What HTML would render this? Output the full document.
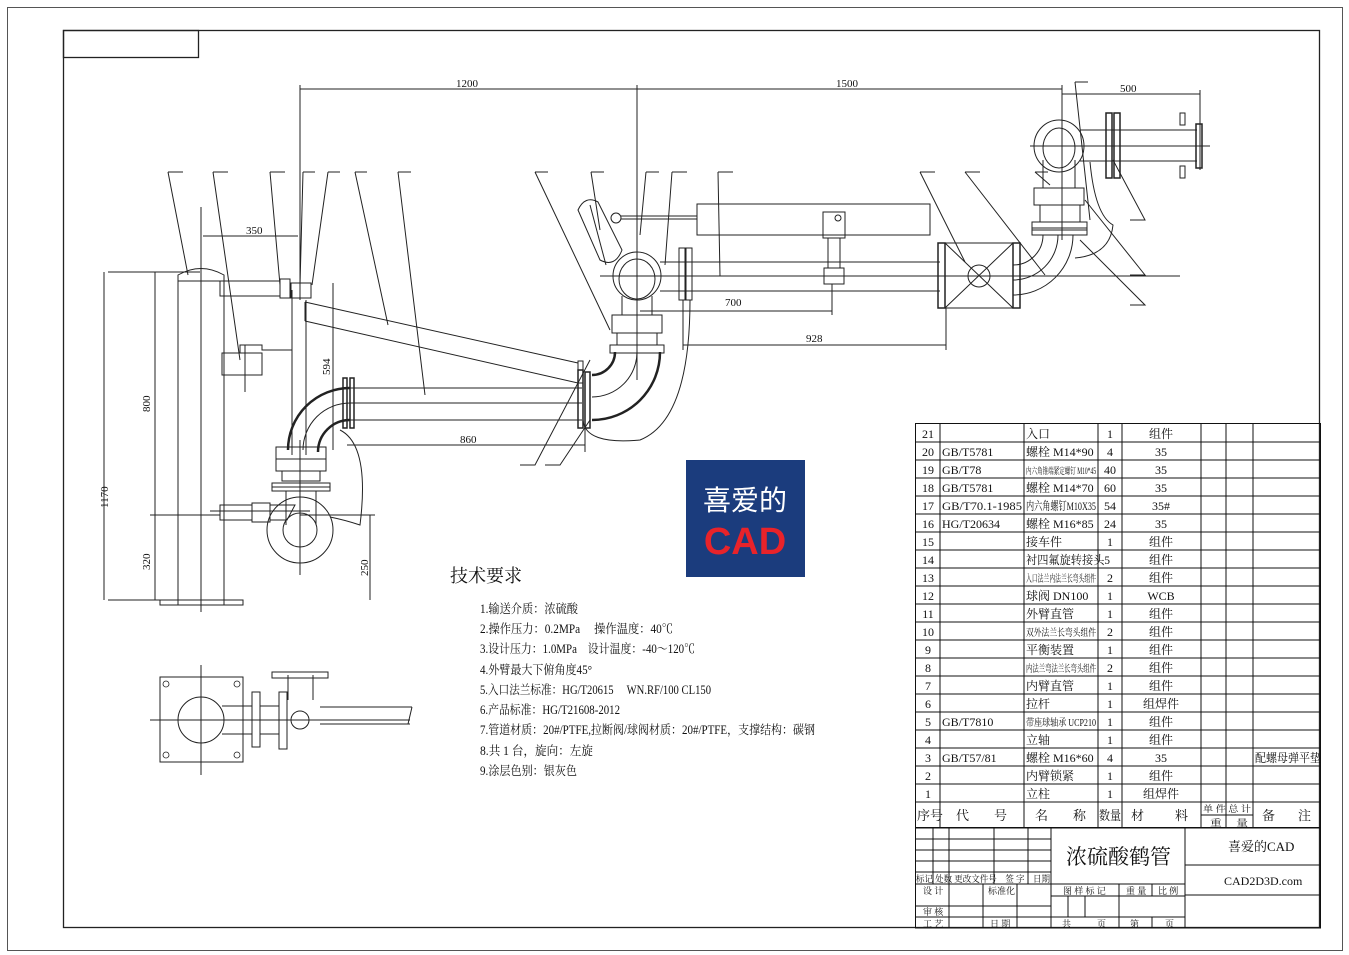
<!DOCTYPE html>
<html><head><meta charset="utf-8"><style>
html,body{margin:0;padding:0;background:#fff}
svg{display:block}
text{font-family:"Liberation Serif","Noto Serif CJK SC","Noto Sans CJK SC",serif;fill:#111}
.s{font-family:"Liberation Sans","Noto Sans CJK SC",sans-serif}
</style></head><body>
<svg width="1349" height="955" viewBox="0 0 1349 955" xmlns="http://www.w3.org/2000/svg">
<g fill="none" stroke="#222" stroke-width="1">
<rect x="7.5" y="7.5" width="1335" height="943" stroke="#555"/>
<rect x="63.5" y="30.5" width="1256" height="897" stroke-width="1.3"/>
<rect x="63.5" y="30.5" width="135" height="27" stroke-width="1.3"/>

<line x1="300" y1="85" x2="300" y2="300"/>
<line x1="637" y1="85" x2="637" y2="380"/>
<line x1="1062" y1="85" x2="1062" y2="240"/>
<line x1="1200" y1="90" x2="1200" y2="170"/>
<line x1="300" y1="89" x2="637" y2="89"/>
<line x1="637" y1="89" x2="1062" y2="89"/>
<line x1="1062" y1="94" x2="1200" y2="94"/>

<path d="M168 172h15 M213 172h15 M270 172h15 M303 172h12 M328 172h12 M355 172h12 M398 172h13 M535 172h13 M591 172h13 M646 172h13 M672 172h15 M718 172h15 M920 172h15 M965 172h15 M1035 172h13 M1075 82h13"/>
<path d="M168 172L188 275 M213 172L240 360 M270 172L280 285 M303 172L300 285 M328 172L312 285 M355 172L388 325 M398 172L425 395 M535 172L610 330 M591 172L600 230 M646 172L640 235 M672 172L665 265 M718 172L720 276 M920 172L965 262 M965 172L1045 275 M1035 172L1050 185 M1075 82L1090 220"/>
<path d="M520 465h15L590 360 M545 465h15L590 420 M1130 220h15L1113 160 M1130 275h15L1085 200 M1130 305h15L1080 240"/>

<path d="M178 605V275Q201 262 224 275V605" />
<line x1="178" y1="281" x2="224" y2="281"/>
<rect x="160" y="600" width="83" height="5"/>
<line x1="201" y1="207" x2="201" y2="612"/>
<line x1="108" y1="272" x2="200" y2="272"/>
<line x1="108" y1="600" x2="160" y2="600"/>
<line x1="104" y1="272" x2="104" y2="600"/>
<line x1="150" y1="515" x2="220" y2="515"/>
<line x1="155" y1="272" x2="155" y2="600"/>
<line x1="203" y1="236" x2="298" y2="236"/>
<rect x="220" y="281" width="60" height="15"/>
<rect x="280" y="279" width="10" height="19"/>
<rect x="291" y="283" width="20" height="15"/>
<line x1="292" y1="290" x2="292" y2="455"/>
<line x1="306" y1="300" x2="306" y2="455"/>
<rect x="222" y="353" width="40" height="22"/>
<path d="M240 353V345h22v5h30"/>
<line x1="245" y1="345" x2="245" y2="392"/>
<path d="M305 302L578 363 M305 321L578 383 M305 302V321"/>
<rect x="578" y="361" width="5" height="22"/>
<line x1="350" y1="388" x2="582" y2="388"/>
<line x1="350" y1="403" x2="582" y2="403"/>
<line x1="350" y1="420" x2="582" y2="420"/>
<rect x="343" y="378" width="4" height="50" stroke-width="1.5"/>
<rect x="350" y="378" width="4" height="50" stroke-width="1.5"/>
<path d="M350 388A62 62 0 0 0 288 450" stroke-width="2.5"/>
<path d="M350 420A32 32 0 0 0 318 452" stroke-width="2.5"/>
<path d="M350 403A47 47 0 0 0 303 450"/>
<rect x="276" y="447" width="50" height="12"/>
<rect x="276" y="459" width="50" height="12"/>
<rect x="282" y="471" width="38" height="10"/>
<rect x="272" y="483" width="58" height="8"/>
<line x1="272" y1="487" x2="330" y2="487"/>
<path d="M286 491V525 M316 491V525"/>
<line x1="300" y1="440" x2="300" y2="575"/>
<circle cx="300" cy="530" r="33"/>
<circle cx="300" cy="530" r="17"/>
<rect x="220" y="505" width="32" height="15"/>
<rect x="252" y="503" width="18" height="19"/>
<path d="M270 505h25l-8 15h-17"/>
<path d="M210 511h100"/>
<path d="M330 517Q345 520 360 525Q370 445 340 430"/>
<line x1="333" y1="283" x2="333" y2="450"/>
<line x1="370" y1="515" x2="370" y2="600"/>
<line x1="300" y1="515" x2="375" y2="515"/>
<line x1="347" y1="445" x2="585" y2="445"/>
<line x1="585" y1="420" x2="585" y2="452"/>

<rect x="578" y="370" width="5" height="58" stroke-width="1.5"/>
<rect x="585" y="372" width="5" height="56" stroke-width="1.5"/>
<path d="M660 352A68 68 0 0 1 592 420" stroke-width="2.5"/>
<path d="M615 352A23 23 0 0 1 592 375" stroke-width="2.5"/>
<path d="M637 352A45 45 0 0 1 592 397"/>
<path d="M583 420Q585 445 640 440Q690 420 690 300"/>
<rect x="612" y="315" width="50" height="18"/>
<rect x="617" y="333" width="40" height="12"/>
<rect x="610" y="345" width="54" height="8"/>
<path d="M622 315V296 M652 315V296"/>
<ellipse cx="637" cy="276" rx="24" ry="24"/>
<ellipse cx="637" cy="279" rx="18" ry="20"/>
<path d="M578 210Q585 195 598 202L622 250Q615 268 600 260Z"/>
<path d="M590 205L606 265"/>
<circle cx="616" cy="218" r="5"/>
<line x1="621" y1="219" x2="697" y2="219"/>
<line x1="621" y1="216" x2="697" y2="216"/>
<rect x="697" y="204" width="233" height="31"/>
<rect x="823" y="212" width="22" height="26"/>
<circle cx="838" cy="218" r="3"/>
<path d="M828 238V268 M840 238V268"/>
<rect x="824" y="268" width="20" height="16"/>
<line x1="832" y1="284" x2="832" y2="315"/>
<line x1="660" y1="262" x2="940" y2="262"/>
<line x1="600" y1="276" x2="1180" y2="276"/>
<line x1="660" y1="291" x2="940" y2="291"/>
<rect x="679" y="248" width="6" height="52"/>
<rect x="686" y="248" width="6" height="52"/>
<rect x="945" y="243" width="68" height="65"/>
<path d="M945 243L1013 308 M1013 243L945 308"/>
<circle cx="979" cy="276" r="11"/>
<rect x="938" y="243" width="7" height="65" stroke-width="1.5"/>
<rect x="1013" y="243" width="7" height="65" stroke-width="1.5"/>
<path d="M1073 235A60 60 0 0 1 1013 295"/>
<path d="M1043 235A30 30 0 0 1 1013 265"/>
<path d="M1058 235A45 45 0 0 1 1013 280"/>
<rect x="1032" y="222" width="55" height="13"/>
<rect x="1032" y="228" width="55" height="2"/>
<rect x="1040" y="205" width="40" height="17"/>
<rect x="1034" y="188" width="50" height="17"/>
<path d="M1043 188V160 M1075 188V160"/>
<ellipse cx="1059" cy="146" rx="25" ry="26"/>
<ellipse cx="1059" cy="148" rx="16" ry="20"/>
<path d="M1080 130H1197 M1080 161H1197"/>
<line x1="1030" y1="146" x2="1210" y2="146"/>
<rect x="1106" y="113" width="6" height="65" stroke-width="1.5"/>
<rect x="1114" y="113" width="6" height="65" stroke-width="1.5"/>
<rect x="1180" y="113" width="5" height="12"/>
<rect x="1180" y="166" width="5" height="12"/>
<rect x="1196" y="124" width="6" height="44" stroke-width="1.5"/>
<path d="M1090 162Q1095 215 1113 225Q1110 255 1075 258"/>
<line x1="640" y1="311" x2="832" y2="311"/>
<line x1="683" y1="345" x2="946" y2="345"/>
<line x1="946" y1="308" x2="946" y2="350"/>
<line x1="683" y1="300" x2="683" y2="350"/>

<rect x="160" y="677" width="83" height="85"/>
<circle cx="201" cy="720" r="23"/>
<path d="M201 665V775 M150 720H410"/>
<path d="M222 706H252 M222 734H252 M260 706H279 M260 734H279"/>
<rect x="252" y="692" width="8" height="55"/>
<rect x="279" y="692" width="8" height="57"/>
<circle cx="300" cy="720" r="9"/>
<path d="M288 675V700 M313 675V700"/>
<rect x="272" y="672" width="56" height="6"/>
<path d="M320 707H412 M320 724H410 M412 707L408 724"/>
<g stroke-width="0.8"><circle cx="166" cy="684" r="3"/><circle cx="237" cy="684" r="3"/><circle cx="166" cy="755" r="3"/><circle cx="237" cy="755" r="3"/></g>

<g stroke="#111">
<rect x="915.5" y="423.5" width="405" height="404"/>
<path d="M940 424V828 M1024 424V828 M1098 424V828 M1122 424V828 M1201 424V828 M1226 424V828 M1253 424V828"/>
<path d="M915 442H1320 M915 460H1320 M915 478H1320 M915 496H1320 M915 514H1320 M915 532H1320 M915 550H1320 M915 568H1320 M915 586H1320 M915 604H1320 M915 622H1320 M915 640H1320 M915 658H1320 M915 676H1320 M915 694H1320 M915 712H1320 M915 730H1320 M915 748H1320 M915 766H1320 M915 784H1320 M915 802H1320 M1201 815H1253"/>
<rect x="915.5" y="828" width="405" height="100"/>
<path d="M1051 828V928 M1185 828V928 M933 828V884 M949 828V928 M994 828V884 M1028 828V884 M983 884V928 M1017 884V928"/>
<path d="M915 839H1051 M915 850H1051 M915 861H1051 M915 872H1051 M915 884H1185 M915 906H1051 M915 917H1185 M1051 896H1185 M1068 896V917 M1085 896V917 M1119 884V928 M1152 884V896 M1152 917V928 M1185 865H1320 M1185 895H1320"/>
</g>
</g>

<g class="s" font-size="11">
<text x="456" y="87">1200</text>
<text x="836" y="87">1500</text>
<text x="1120" y="92">500</text>
<text x="246" y="234">350</text>
<text x="725" y="306">700</text>
<text x="806" y="342">928</text>
<text x="460" y="443">860</text>
<text transform="translate(330,375) rotate(-90)">594</text>
<text transform="translate(150,412) rotate(-90)">800</text>
<text transform="translate(150,570) rotate(-90)">320</text>
<text transform="translate(108,508) rotate(-90)">1170</text>
<text transform="translate(368,576) rotate(-90)">250</text>
</g>

<rect x="686" y="460" width="119" height="117" fill="#1b3c7d"/>
<text x="745" y="510" text-anchor="middle" font-size="28" style="fill:#fff;font-family:'Noto Sans CJK SC',sans-serif">喜爱的</text>
<text x="745" y="554" text-anchor="middle" font-size="38" font-weight="bold" class="s" style="fill:#e8232a">CAD</text>

<text x="450" y="582" font-size="18">技术要求</text>
<g font-size="12.5">
<text x="480" y="613" textLength="98" lengthAdjust="spacingAndGlyphs">1.输送介质：浓硫酸</text>
<text x="480" y="633" textLength="193" lengthAdjust="spacingAndGlyphs">2.操作压力：0.2MPa　  操作温度：40℃</text>
<text x="480" y="653" textLength="215" lengthAdjust="spacingAndGlyphs">3.设计压力：1.0MPa　设计温度：-40～120℃</text>
<text x="480" y="674" textLength="112" lengthAdjust="spacingAndGlyphs">4.外臂最大下俯角度45°</text>
<text x="480" y="694" textLength="231" lengthAdjust="spacingAndGlyphs">5.入口法兰标准：HG/T20615　 WN.RF/100 CL150</text>
<text x="480" y="714" textLength="140" lengthAdjust="spacingAndGlyphs">6.产品标准：HG/T21608-2012</text>
<text x="480" y="734" textLength="335" lengthAdjust="spacingAndGlyphs">7.管道材质：20#/PTFE,拉断阀/球阀材质：20#/PTFE，支撑结构：碳钢</text>
<text x="480" y="755" textLength="113" lengthAdjust="spacingAndGlyphs">8.共 1 台，旋向：左旋</text>
<text x="480" y="775" textLength="97" lengthAdjust="spacingAndGlyphs">9.涂层色别：银灰色</text>
</g>

<g font-size="12">
<g text-anchor="middle">
<text x="928" y="438">21</text><text x="928" y="456">20</text><text x="928" y="474">19</text><text x="928" y="492">18</text><text x="928" y="510">17</text><text x="928" y="528">16</text><text x="928" y="546">15</text><text x="928" y="564">14</text><text x="928" y="582">13</text><text x="928" y="600">12</text><text x="928" y="618">11</text><text x="928" y="636">10</text><text x="928" y="654">9</text><text x="928" y="672">8</text><text x="928" y="690">7</text><text x="928" y="708">6</text><text x="928" y="726">5</text><text x="928" y="744">4</text><text x="928" y="762">3</text><text x="928" y="780">2</text><text x="928" y="798">1</text>
<text x="1110" y="438">1</text><text x="1110" y="456">4</text><text x="1110" y="474">40</text><text x="1110" y="492">60</text><text x="1110" y="510">54</text><text x="1110" y="528">24</text><text x="1110" y="546">1</text><text x="1110" y="600">1</text><text x="1110" y="582">2</text><text x="1110" y="618">1</text><text x="1110" y="636">2</text><text x="1110" y="654">1</text><text x="1110" y="672">2</text><text x="1110" y="690">1</text><text x="1110" y="708">1</text><text x="1110" y="726">1</text><text x="1110" y="744">1</text><text x="1110" y="762">4</text><text x="1110" y="780">1</text><text x="1110" y="798">1</text>
<text x="1161" y="438">组件</text><text x="1161" y="456">35</text><text x="1161" y="474">35</text><text x="1161" y="492">35</text><text x="1161" y="510">35#</text><text x="1161" y="528">35</text><text x="1161" y="546">组件</text><text x="1161" y="564">组件</text><text x="1161" y="582">组件</text><text x="1161" y="600">WCB</text><text x="1161" y="618">组件</text><text x="1161" y="636">组件</text><text x="1161" y="654">组件</text><text x="1161" y="672">组件</text><text x="1161" y="690">组件</text><text x="1161" y="708">组焊件</text><text x="1161" y="726">组件</text><text x="1161" y="744">组件</text><text x="1161" y="762">35</text><text x="1161" y="780">组件</text><text x="1161" y="798">组焊件</text>
</g>
<text x="942" y="456">GB/T5781</text><text x="942" y="474">GB/T78</text><text x="942" y="492">GB/T5781</text>
<text x="942" y="510" textLength="80" lengthAdjust="spacingAndGlyphs">GB/T70.1-1985</text>
<text x="942" y="528">HG/T20634</text><text x="942" y="726">GB/T7810</text><text x="942" y="762">GB/T57/81</text>
<text x="1026" y="438">入口</text>
<text x="1026" y="456">螺栓 M14*90</text>
<text x="1026" y="474" font-size="9" textLength="70" lengthAdjust="spacingAndGlyphs">内六角锥端紧定螺钉 M10*45</text>
<text x="1026" y="492">螺栓 M14*70</text>
<text x="1026" y="510" textLength="70" lengthAdjust="spacingAndGlyphs">内六角螺钉M10X35</text>
<text x="1026" y="528">螺栓 M16*85</text>
<text x="1026" y="546">接车件</text>
<text x="1026" y="564" textLength="84" lengthAdjust="spacingAndGlyphs">衬四氟旋转接头5</text>
<text x="1026" y="582" font-size="10" textLength="70" lengthAdjust="spacingAndGlyphs">入口法兰内法兰长弯头组件</text>
<text x="1026" y="600">球阀 DN100</text>
<text x="1026" y="618">外臂直管</text>
<text x="1026" y="636" font-size="10" textLength="70" lengthAdjust="spacingAndGlyphs">双外法兰长弯头组件</text>
<text x="1026" y="654">平衡装置</text>
<text x="1026" y="672" font-size="10" textLength="70" lengthAdjust="spacingAndGlyphs">内法兰弯法兰长弯头组件</text>
<text x="1026" y="690">内臂直管</text>
<text x="1026" y="708">拉杆</text>
<text x="1026" y="726" font-size="10" textLength="70" lengthAdjust="spacingAndGlyphs">带座球轴承 UCP210</text>
<text x="1026" y="744">立轴</text>
<text x="1026" y="762">螺栓 M16*60</text>
<text x="1026" y="780">内臂锁紧</text>
<text x="1026" y="798">立柱</text>
<text x="1255" y="762" textLength="66" lengthAdjust="spacingAndGlyphs">配螺母弹平垫</text>
<g font-size="13">
<text x="917" y="820">序号</text><text x="956" y="820">代</text><text x="994" y="820">号</text>
<text x="1035" y="820">名</text><text x="1073" y="820">称</text><text x="1099" y="820" textLength="22" lengthAdjust="spacingAndGlyphs">数量</text>
<text x="1131" y="820">材</text><text x="1175" y="820">料</text><text x="1262" y="820">备</text><text x="1298" y="820">注</text>
</g>
<text x="1203" y="812" font-size="9" textLength="48" lengthAdjust="spacingAndGlyphs">单 件 总 计</text>
<text x="1210" y="826" font-size="9" textLength="38" lengthAdjust="spacingAndGlyphs">重　 量</text>
<text x="1066" y="864" font-size="21">浓硫酸鹤管</text>
<text x="1228" y="851" font-size="13">喜爱的CAD</text>
<text x="1224" y="885" font-size="12">CAD2D3D.com</text>
<g font-size="9">
<text x="916" y="882" textLength="134" lengthAdjust="spacingAndGlyphs">标记 处数 更改文件号　签 字　日期</text>
<text x="923" y="894">设 计</text><text x="988" y="894">标准化</text>
<text x="923" y="915">审 核</text><text x="923" y="927">工 艺</text><text x="990" y="927">日 期</text>
<text x="1063" y="894">图 样 标 记</text><text x="1126" y="894">重 量</text><text x="1158" y="894">比 例</text>
<text x="1062" y="927">共</text><text x="1097" y="927">页</text><text x="1130" y="927">第</text><text x="1165" y="927">页</text>
</g>
</g>
</svg>
</body></html>
